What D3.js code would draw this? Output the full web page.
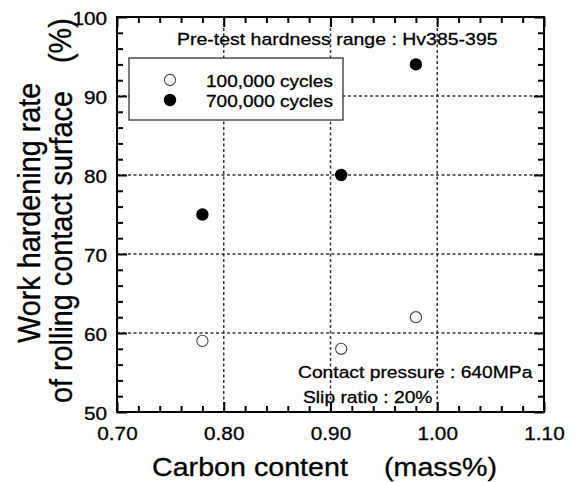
<!DOCTYPE html>
<html>
<head>
<meta charset="utf-8">
<script src="https://cdn.jsdelivr.net/npm/d3@7"></script>
<style>
  body { margin: 0; background: #fff; }
  text { font-family: "Liberation Sans", Arial, sans-serif; fill: #000; stroke: #000; stroke-width: 0.3px; }
</style>
</head>
<body>
<div id="chart"></div>
<script>
// Data
const carbon = [0.78, 0.91, 0.98];
const rate100k = [59, 58, 62];
const rate700k = [75, 80, 94];
const seriesNames = ["100,000 cycles", "700,000 cycles"];
const xTicks = [0.70, 0.80, 0.90, 1.00, 1.10];
const yTicks = [50, 60, 70, 80, 90, 100];
const xTitle = ["Carbon content", "(mass%)"];
const yTitle = ["Work hardening rate", "of rolling contact surface", "(%)"];
const notes = ["Pre-test hardness range : Hv385-395", "Contact pressure : 640MPa", "Slip ratio : 20%"];

const W = 582, H = 482;
const margin = { top: 17, right: 38, bottom: 70, left: 117 },
      width = W - margin.left - margin.right,
      height = H - margin.top - margin.bottom;
const sx = 1.12; // glyphs in the figure are a bit wide

const svg = d3.select("#chart").append("svg")
  .attr("width", W)
  .attr("height", H);

const g = svg.append("g")
  .attr("transform", `translate(${margin.left},${margin.top})`);

const x = d3.scaleLinear().domain([0.70, 1.10]).range([0, width]);
const y = d3.scaleLinear().domain([50, 100]).range([height, 0]);

const xMinor = d3.range(0.72, 1.10, 0.02).filter(v => Math.abs(v * 10 - Math.round(v * 10)) > 1e-6);
const yMinor = d3.range(52, 100, 2).filter(v => v % 10 !== 0);

// Dotted grid
g.selectAll(".gx")
  .data(xTicks.slice(1, -1))
  .join("line")
  .attr("x1", d => x(d)).attr("x2", d => x(d))
  .attr("y1", 0).attr("y2", height)
  .attr("stroke", "#333").attr("stroke-width", 1.5)
  .attr("stroke-dasharray", "3,2.5");

g.selectAll(".gy")
  .data(yTicks.slice(1, -1))
  .join("line")
  .attr("x1", 0).attr("x2", width)
  .attr("y1", d => y(d)).attr("y2", d => y(d))
  .attr("stroke", "#333").attr("stroke-width", 1.5)
  .attr("stroke-dasharray", "3,2.5");

// Legend box (covers grid)
const lg = svg.append("g");
lg.append("rect")
  .attr("x", 129).attr("y", 58)
  .attr("width", 214).attr("height", 62)
  .attr("fill", "#fff").attr("stroke", "#333").attr("stroke-width", 1.3);

// Points
g.selectAll(".p100")
  .data(carbon.map((c, i) => ({ c, v: rate100k[i] })))
  .join("circle")
  .attr("cx", d => x(d.c)).attr("cy", d => y(d.v))
  .attr("r", 5.6)
  .attr("fill", "#fff").attr("stroke", "#444").attr("stroke-width", 1.1);

g.selectAll(".p700")
  .data(carbon.map((c, i) => ({ c, v: rate700k[i] })))
  .join("circle")
  .attr("cx", d => x(d.c)).attr("cy", d => y(d.v))
  .attr("r", 6.2)
  .attr("fill", "#000");

// Axes: ticks pointing inward on all four sides
function styleAxis(sel) {
  sel.select(".domain").remove();
  sel.selectAll(".tick line").attr("stroke", "#000").attr("stroke-width", 2);
}

g.append("g")
  .attr("transform", `translate(0,${height})`)
  .call(d3.axisBottom(x).tickValues(xTicks).tickSizeInner(-10).tickSizeOuter(0)
    .tickPadding(15).tickFormat(d3.format(".2f")))
  .call(styleAxis)
  .call(a => a.selectAll("text")
    .attr("font-size", 18.5)
    .attr("transform", `scale(${sx},1)`));

g.append("g")
  .attr("transform", `translate(0,${height})`)
  .call(d3.axisBottom(x).tickValues(xMinor).tickSize(-6).tickFormat(""))
  .call(styleAxis);

g.append("g")
  .call(d3.axisTop(x).tickValues(xTicks).tickSize(-10).tickFormat(""))
  .call(styleAxis);
g.append("g")
  .call(d3.axisTop(x).tickValues(xMinor).tickSize(-6).tickFormat(""))
  .call(styleAxis);

g.append("g")
  .call(d3.axisLeft(y).tickValues(yTicks).tickSizeInner(-10).tickSizeOuter(0)
    .tickPadding(9).tickFormat(d3.format("d")))
  .call(styleAxis)
  .call(a => a.selectAll("text")
    .attr("font-size", 18.5)
    .attr("dy", "0.38em")
    .attr("transform", `scale(${sx},1)`));

g.append("g")
  .call(d3.axisLeft(y).tickValues(yMinor).tickSize(-6).tickFormat(""))
  .call(styleAxis);

g.append("g")
  .attr("transform", `translate(${width},0)`)
  .call(d3.axisRight(y).tickValues(yTicks).tickSize(-10).tickFormat(""))
  .call(styleAxis);
g.append("g")
  .attr("transform", `translate(${width},0)`)
  .call(d3.axisRight(y).tickValues(yMinor).tickSize(-6).tickFormat(""))
  .call(styleAxis);

// Frame
g.append("rect")
  .attr("width", width).attr("height", height)
  .attr("fill", "none").attr("stroke", "#000").attr("stroke-width", 2);

// Legend content
const legendRows = [
  { name: seriesNames[0], fill: "#fff", stroke: "#444", r: 5.6 },
  { name: seriesNames[1], fill: "#000", stroke: "none", r: 6.2 }
];
legendRows.forEach((d, i) => {
  lg.append("circle")
    .attr("cx", 170).attr("cy", 80 + i * 20)
    .attr("r", d.r)
    .attr("fill", d.fill).attr("stroke", d.stroke).attr("stroke-width", 1.1);
  lg.append("text")
    .attr("transform", `translate(206,${87 + i * 20}) scale(${sx},1)`)
    .attr("font-size", 17)
    .text(d.name);
});

// Annotations
function label(txt, tx, ty, size, anchor, rot) {
  svg.append("text")
    .attr("transform", `translate(${tx},${ty}) scale(${sx},1)` + (rot ? " rotate(-90)" : ""))
    .attr("font-size", size)
    .attr("text-anchor", anchor || "start")
    .text(txt);
}

label(notes[0], 177, 45, 17.4);
label(notes[1], 298, 378, 17.2);
label(notes[2], 303, 403, 17.2);

label(xTitle[0], 152, 476, 25.6);
label(xTitle[1], 384, 476, 25.6);

label(yTitle[0], 40, 343, 28.8, "start", true);
label(yTitle[1], 72, 403, 28.8, "start", true);
label(yTitle[2], 71, 63, 28.8, "start", true);
</script>
</body>
</html>
